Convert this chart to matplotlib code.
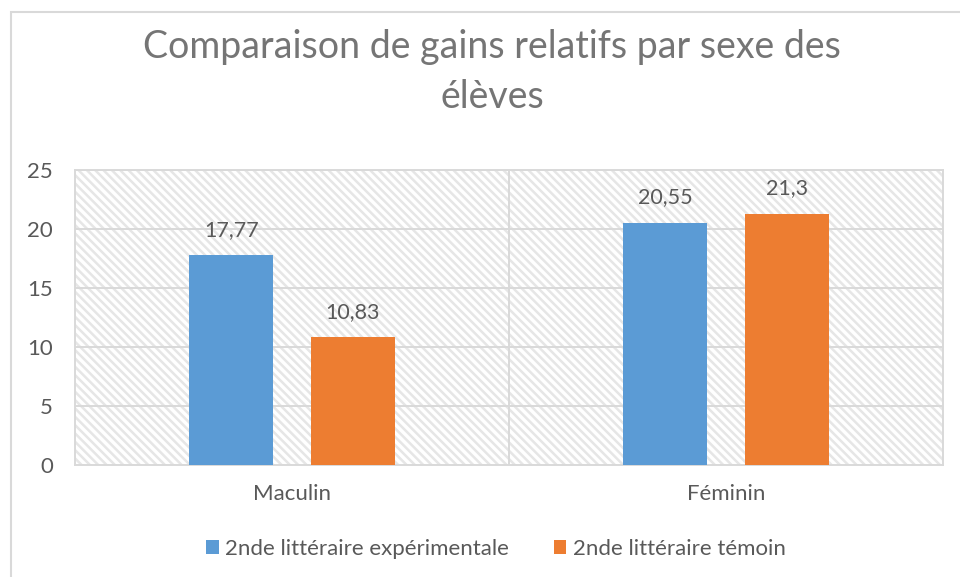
import matplotlib.pyplot as plt
from matplotlib.patches import Rectangle
import numpy as np

plt.rcParams['font.family'] = ['Lato', 'DejaVu Sans']
plt.rcParams['hatch.linewidth'] = 1.8

# gains relatifs par sexe
categories = ["Maculin", "Féminin"]
experimental = [17.77, 20.55]
temoin = [10.83, 21.3]
series_names = ["2nde littéraire expérimentale", "2nde littéraire témoin"]
value_labels_exp = ["17,77", "20,55"]
value_labels_tem = ["10,83", "21,3"]

blue = "#5b9bd5"
orange = "#ed7d31"
txt = "#595959"
grid = "#d9d9d9"

fig = plt.figure(figsize=(9.6, 5.77), dpi=100)
# outer chart frame
fig.patches.append(Rectangle((11 / 960, -0.1), 1.2, 1 - 12 / 577 + 0.1,
                             transform=fig.transFigure, facecolor="white",
                             edgecolor=grid, linewidth=1.5, zorder=-10))

ax = fig.add_axes([75 / 960, 1 - 465 / 577, 868 / 960, 295 / 577])
ax.set_facecolor("none")

x = np.arange(len(categories))
off = 0.14
w = 0.194

# hatched plot background
ax.add_patch(Rectangle((0, 0), 1, 1, transform=ax.transAxes, facecolor="white",
                       edgecolor="#e6e6e6", hatch="\\\\\\\\", linewidth=0, zorder=0))

b1 = ax.bar(x - off, experimental, w, color=blue, zorder=3, label=series_names[0])
b2 = ax.bar(x + off, temoin, w, color=orange, zorder=3, label=series_names[1])

fs = 15.5
for rect, lab in zip(b1, value_labels_exp):
    ax.annotate(lab, (rect.get_x() + rect.get_width() / 2, rect.get_height()),
                xytext=(0, 11), textcoords="offset points", ha="center",
                va="bottom", fontsize=fs, color=txt)
for rect, lab in zip(b2, value_labels_tem):
    ax.annotate(lab, (rect.get_x() + rect.get_width() / 2, rect.get_height()),
                xytext=(0, 11), textcoords="offset points", ha="center",
                va="bottom", fontsize=fs, color=txt)

ax.set_xlim(-0.5, 1.5)
ax.set_ylim(0, 25)
ax.set_yticks(range(0, 26, 5))
ax.set_xticks(x)
ax.set_xticklabels(categories)
ax.tick_params(length=0, labelsize=16, labelcolor=txt)
ax.tick_params(axis="y", pad=16)
ax.tick_params(axis="x", pad=14)

for yv in range(5, 26, 5):
    ax.axhline(yv, color=grid, lw=1.4, zorder=1)
ax.axvline(0.5, color=grid, lw=1.4, zorder=1)
for s in ax.spines.values():
    s.set_color(grid)
    s.set_linewidth(1.4)

fig.text(492 / 960, 1 - 47 / 577, "Comparaison de gains relatifs par sexe des",
         ha="center", va="center", fontsize=27, color="#757575")
fig.text(492 / 960, 1 - 97 / 577, "élèves",
         ha="center", va="center", fontsize=27, color="#757575")

fig.legend(handles=[b1, b2], loc="center", bbox_to_anchor=(496 / 960, 1 - 549 / 577),
           ncol=2, frameon=False, fontsize=16, labelcolor=txt,
           handlelength=0.57, handleheight=0.57, handletextpad=0.3, columnspacing=2.0)

fig.savefig("out.png", dpi=100)
